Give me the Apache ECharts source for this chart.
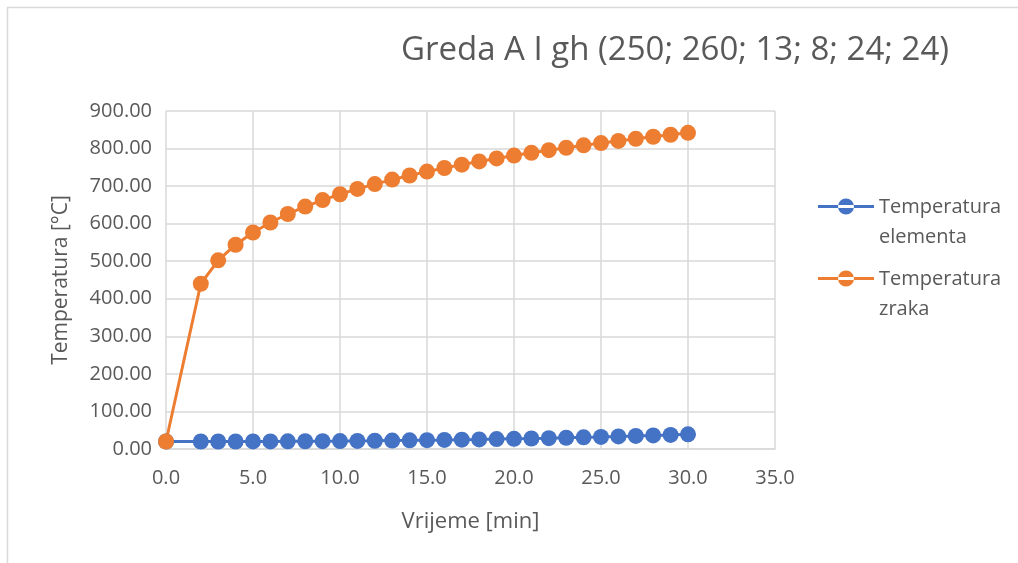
<!DOCTYPE html>
<html>
<head>
<meta charset="utf-8">
<script src="https://cdn.jsdelivr.net/npm/echarts@6/dist/echarts.min.js"></script>
<style>
  html, body { margin: 0; padding: 0; background: #fff; }
  #chart { width: 1018px; height: 563px; }
</style>
</head>
<body>
<div id="chart"></div>
<script>
// Time in minutes
const timeMin = [0, 2, 3, 4, 5, 6, 7, 8, 9, 10, 11, 12, 13, 14, 15, 16, 17, 18, 19, 20,
                 21, 22, 23, 24, 25, 26, 27, 28, 29, 30];
// Member (steel) temperature [°C]
const tempElement = [20, 20, 20, 20, 20.1, 20.2, 20.4, 20.6, 20.9, 21.2, 21.6, 22, 22.5, 23, 23.6,
                     24.2, 24.9, 25.6, 26.4, 27.2, 28, 28.9, 29.9, 31, 32.2, 33.5, 34.8, 36.2, 37.6, 39];
// Gas (air) temperature [°C]
const tempAir = [20, 440, 502.3, 543.9, 576.4, 603.1, 625.8, 645.5, 662.8, 678.4, 692.5, 705.4,
                 717.3, 728.3, 738.6, 748.2, 757.2, 765.7, 773.7, 781.4, 788.6, 795.6, 802.2,
                 808.5, 814.6, 820.4, 826.1, 831.5, 836.8, 841.8];

const seriesNames = ['Temperatura\nelementa', 'Temperatura\nzraka'];
const titleText = 'Greda A I gh (250; 260; 13; 8; 24; 24)';
const xName = 'Vrijeme [min]';
const yName = 'Temperatura [°C]';

const FONT = 'Open Sans';
const TEXT = '#595959';
const GRID = '#d9d9d9';

// Legend key: line with a dot, sitting level with the first text line.
// The tiny square at the bottom only fixes the key's box height.
const LEGEND_KEY = 'path://M0 6.5 L56 6.5 L56 9.5 L0 9.5 Z ' +
  'M20 8 A8 8 0 1 0 36 8 A8 8 0 1 0 20 8 Z ' +
  'M0 46.9 L0.1 46.9 L0.1 47 L0 47 Z';

const pair = (xs, ys) => xs.map((x, i) => [x, ys[i]]);

const chart = echarts.init(document.getElementById('chart'), null, { renderer: 'canvas' });
chart.setOption({
  backgroundColor: '#fff',
  animation: false,
  textStyle: { fontFamily: FONT },
  title: {
    text: titleText,
    left: 396, top: 29,
    textStyle: { fontFamily: FONT, fontSize: 33, fontWeight: 'normal', color: TEXT }
  },
  graphic: [{
    type: 'rect',
    shape: { x: 7.5, y: 7.5, width: 2000, height: 2000 },
    style: { fill: 'none', stroke: GRID, lineWidth: 1.5 },
    silent: true
  }],
  legend: {
    orient: 'vertical',
    left: 813, top: 187,
    icon: LEGEND_KEY,
    itemWidth: 56, itemHeight: 47,
    itemGap: 12,
    textStyle: { fontFamily: FONT, fontSize: 20, color: TEXT, lineHeight: 30 },
    data: seriesNames
  },
  grid: { left: 166, right: 243, top: 111, bottom: 114 },
  xAxis: {
    type: 'value',
    min: 0, max: 35, interval: 5,
    name: xName,
    nameLocation: 'middle',
    nameGap: 62,
    nameTextStyle: { fontFamily: FONT, fontSize: 22, color: TEXT },
    axisLine: { show: true, lineStyle: { color: GRID, width: 1.5 } },
    axisTick: { show: false },
    axisLabel: { fontFamily: FONT, fontSize: 20, color: TEXT, margin: 19,
                 formatter: v => v.toFixed(1) },
    splitLine: { show: true, lineStyle: { color: GRID, width: 1.5 } }
  },
  yAxis: {
    type: 'value',
    min: 0, max: 900, interval: 100,
    name: yName,
    nameLocation: 'middle',
    nameGap: 94,
    nameTextStyle: { fontFamily: FONT, fontSize: 21, color: TEXT },
    axisLine: { show: false },
    axisTick: { show: false },
    axisLabel: { fontFamily: FONT, fontSize: 20, color: TEXT, margin: 14,
                 formatter: v => v.toFixed(2) },
    splitLine: { show: true, lineStyle: { color: GRID, width: 1.5 } }
  },
  series: [
    {
      name: seriesNames[0],
      type: 'line',
      data: pair(timeMin, tempElement),
      symbol: 'circle', symbolSize: 16,
      lineStyle: { color: '#4472C4', width: 3 },
      itemStyle: { color: '#4472C4' }
    },
    {
      name: seriesNames[1],
      type: 'line',
      data: pair(timeMin, tempAir),
      symbol: 'circle', symbolSize: 16,
      lineStyle: { color: '#ED7D31', width: 3 },
      itemStyle: { color: '#ED7D31' }
    }
  ]
});
</script>
</body>
</html>
